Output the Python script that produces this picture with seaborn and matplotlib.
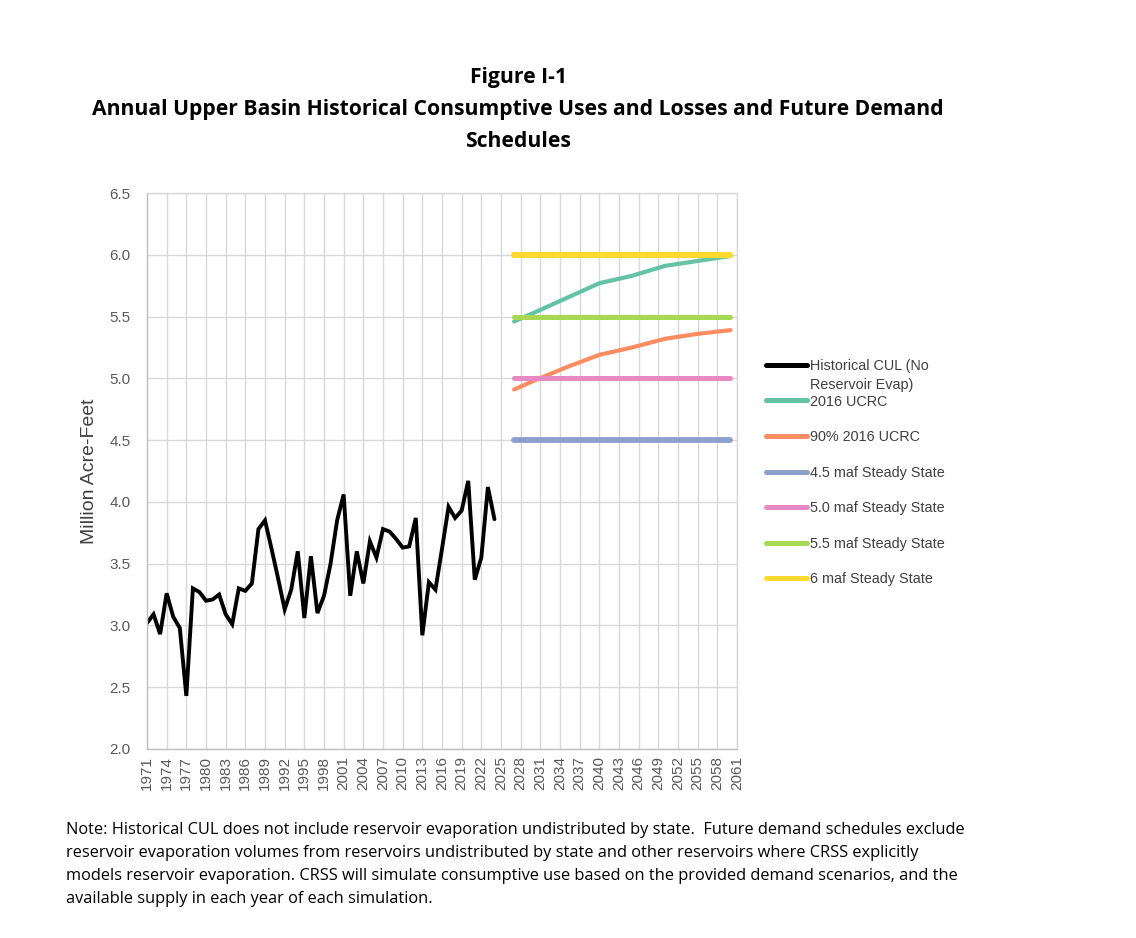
import matplotlib
matplotlib.use("Agg")
import matplotlib.pyplot as plt
import seaborn as sns
import pandas as pd

# ---------------- data ----------------
hist_years = list(range(1971, 2025))
hist_cul = [3.02, 3.09, 2.93, 3.26, 3.07, 2.98, 2.43, 3.30, 3.27, 3.20,
            3.21, 3.25, 3.09, 3.01, 3.30, 3.28, 3.34, 3.78, 3.85, 3.62,
            3.38, 3.13, 3.29, 3.60, 3.06, 3.56, 3.10, 3.24, 3.50, 3.85,
            4.06, 3.24, 3.60, 3.34, 3.68, 3.55, 3.78, 3.76, 3.70, 3.63,
            3.64, 3.87, 2.92, 3.35, 3.29, 3.62, 3.96, 3.87, 3.93, 4.17,
            3.37, 3.55, 4.12, 3.86]

future_years = [2027, 2030, 2035, 2040, 2045, 2050, 2055, 2060]
ucrc_2016 = [5.46, 5.53, 5.65, 5.77, 5.83, 5.91, 5.95, 5.99]
ucrc_90pct = [4.91, 4.98, 5.09, 5.19, 5.25, 5.32, 5.36, 5.39]
steady_45 = [4.5] * 8
steady_50 = [5.0] * 8
steady_55 = [5.5] * 8
steady_60 = [6.0] * 8

series_names = ["Historical CUL (No", "2016 UCRC", "90% 2016 UCRC",
                "4.5 maf Steady State", "5.0 maf Steady State",
                "5.5 maf Steady State", "6 maf Steady State"]
x_ticks = list(range(1971, 2062, 3))
y_ticks = [2.0, 2.5, 3.0, 3.5, 4.0, 4.5, 5.0, 5.5, 6.0, 6.5]

# ---------------- style ----------------
sns.set_theme(style="white")
plt.rcParams["font.family"] = ["Liberation Sans", "DejaVu Sans"]

set2 = sns.color_palette("Set2", 6)
colors = {
    series_names[0]: "#000000",
    series_names[1]: set2[0],
    series_names[2]: set2[1],
    series_names[3]: set2[2],
    series_names[4]: set2[3],
    series_names[5]: set2[4],
    series_names[6]: set2[5],
}
widths = {
    series_names[0]: 2.8,
    series_names[1]: 3.0,
    series_names[2]: 3.0,
    series_names[3]: 4.2,
    series_names[4]: 3.6,
    series_names[5]: 3.6,
    series_names[6]: 4.4,
}

fig = plt.figure(figsize=(11.36, 9.38), dpi=100)
ax = fig.add_axes([147 / 1136, 1 - 749 / 938, 590 / 1136, 556 / 938])

frames = [
    (series_names[0], hist_years, hist_cul),
    (series_names[1], future_years, ucrc_2016),
    (series_names[2], future_years, ucrc_90pct),
    (series_names[3], future_years, steady_45),
    (series_names[4], future_years, steady_50),
    (series_names[5], future_years, steady_55),
    (series_names[6], future_years, steady_60),
]
for name, xs, ys in frames:
    df = pd.DataFrame({"year": xs, "value": ys})
    sns.lineplot(data=df, x="year", y="value", ax=ax, color=colors[name],
                 linewidth=widths[name], label=name,
                 solid_capstyle="round",
                 solid_joinstyle="miter" if name == series_names[0] else "round")

ax.set_xlim(1971, 2061)
ax.set_ylim(2.0, 6.5)
ax.set_xticks(x_ticks)
ax.set_xticklabels([str(t) for t in x_ticks], rotation=90, fontsize=11, color="#595959")
ax.set_yticks(y_ticks)
ax.set_yticklabels([f"{t:.1f}" for t in y_ticks], fontsize=11, color="#595959")
ax.tick_params(axis="x", length=0, pad=5)
ax.tick_params(axis="y", length=0, pad=12)
ax.set_xlabel("")
ax.set_ylabel("Million Acre-Feet", fontsize=14, color="#404040", labelpad=8)
ax.grid(True, color="#d9d9d9", linewidth=1.0)
for sp in ax.spines.values():
    sp.set_color("#d9d9d9")
    sp.set_linewidth(1.0)
ax.spines["bottom"].set_color("#bfbfbf")
ax.spines["left"].set_color("#bfbfbf")

leg = ax.legend(loc="upper left", bbox_to_anchor=(766 / 1136, 1 - 359 / 938),
                bbox_transform=fig.transFigure, frameon=False, fontsize=10.4,
                handlelength=2.85, handletextpad=0.2, labelspacing=1.49,
                borderpad=0, borderaxespad=0)
for t in leg.get_texts():
    t.set_color("#404040")
for h in leg.get_lines():
    h.set_linewidth(3.6)
ax.annotate("Reservoir Evap)", xy=(0, 0), xycoords=leg.get_texts()[0],
            xytext=(0, -3.5), textcoords="offset points", va="top", ha="left",
            fontsize=10.4, color="#404040", zorder=20)

title_font = ["Open Sans", "DejaVu Sans"]
fig.text(518 / 1136, 1 - 78 / 938, "Figure I-1", ha="center", va="center",
         fontsize=15.2, fontweight="bold", family=title_font, color="black")
fig.text(518 / 1136, 1 - 110 / 938,
         "Annual Upper Basin Historical Consumptive Uses and Losses and Future Demand",
         ha="center", va="center", fontsize=15.2, fontweight="bold", family=title_font, color="black")
fig.text(518 / 1136, 1 - 141 / 938, "Schedules", ha="center", va="center",
         fontsize=15.2, fontweight="bold", family=title_font, color="black")

note = ("Note: Historical CUL does not include reservoir evaporation undistributed by state.  Future demand schedules exclude\n"
        "reservoir evaporation volumes from reservoirs undistributed by state and other reservoirs where CRSS explicitly\n"
        "models reservoir evaporation. CRSS will simulate consumptive use based on the provided demand scenarios, and the\n"
        "available supply in each year of each simulation.")
fig.text(66 / 1136, 1 - 822 / 938, note, ha="left", va="top", fontsize=11.8,
         family=title_font, color="black", linespacing=1.57)

fig.savefig("out.png", dpi=100, facecolor="white")
